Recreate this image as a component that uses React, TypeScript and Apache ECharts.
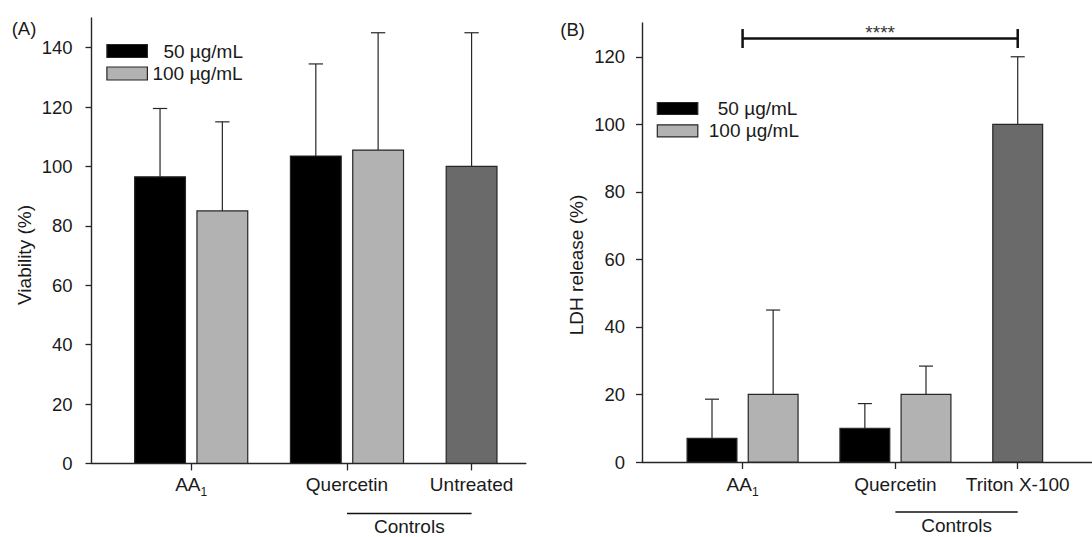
import React, { useEffect, useRef } from 'react';
import * as echarts from 'echarts';

// ---------- data ----------
const viabilityGroups = ['AA1', 'Quercetin', 'Untreated'];
const ldhGroups = ['AA1', 'Quercetin', 'Triton X-100'];
const concentrationNames = ['50 µg/mL', '100 µg/mL'];

const viability50 = [96.5, 103.5];
const viability50Sd = [23, 31];
const viability100 = [85, 105.5];
const viability100Sd = [30, 39.5];
const viabilityControl = [100];
const viabilityControlSd = [45];

const ldh50 = [7, 10];
const ldh50Sd = [11.6, 7.3];
const ldh100 = [20, 20];
const ldh100Sd = [25, 8.4];
const ldhControl = [100];
const ldhControlSd = [20];

const viabilityTicks = [0, 20, 40, 60, 80, 100, 120, 140];
const ldhTicks = [0, 20, 40, 60, 80, 100, 120];

const significanceText = '****';
const significanceLevel = 125.4;
const controlsText = 'Controls';

// ---------- layout (axis units, not data) ----------
const GROUP_CENTERS = [1, 6, 10];
const BAR_OFFSET = 1;
const BAR_W = 1.63;
const CAP_W = 0.46;

const FONT = '"Liberation Sans", Arial, Helvetica, sans-serif';
const TEXT = '#1a1a1a';
const EDGE = '#262626';
const C50 = '#000000';
const C100 = '#b2b2b2';
const CCTRL = '#6a6a6a';

function barData(values: number[], sds: number[], offset: number, startGroup = 0) {
  return values.map((v, i) => [GROUP_CENTERS[startGroup + i] + offset, v, sds[i]]);
}

function renderBar(params: any, api: any) {
  const x = api.value(0);
  const v = api.value(1);
  const sd = api.value(2);
  const base = api.coord([x, 0]);
  const top = api.coord([x, v]);
  const err = api.coord([x, v + sd]);
  const w = api.size([BAR_W, 0])[0];
  const cw = api.size([CAP_W, 0])[0];
  const lineStyle = { stroke: EDGE, lineWidth: 1.2 };
  return {
    type: 'group',
    children: [
      { type: 'line', shape: { x1: top[0], y1: top[1], x2: top[0], y2: err[1] }, style: lineStyle },
      { type: 'line', shape: { x1: top[0] - cw / 2, y1: err[1], x2: top[0] + cw / 2, y2: err[1] }, style: lineStyle },
      {
        type: 'rect',
        shape: { x: top[0] - w / 2, y: top[1], width: w, height: base[1] - top[1] },
        style: { fill: api.visual('color'), stroke: EDGE, lineWidth: 1.2 },
      },
    ],
  };
}

function renderControls(params: any, api: any) {
  const a = api.coord([api.value(0), 0]);
  const b = api.coord([api.value(1), 0]);
  const y = a[1] + 50;
  return {
    type: 'group',
    children: [
      { type: 'line', shape: { x1: a[0], y1: y, x2: b[0], y2: y }, style: { stroke: '#111', lineWidth: 1.5 } },
      {
        type: 'text',
        x: (a[0] + b[0]) / 2,
        y: y + 13,
        style: { text: controlsText, fontSize: 19, fontFamily: FONT, fill: TEXT, align: 'center', verticalAlign: 'middle' },
      },
    ],
  };
}

function renderBracket(params: any, api: any) {
  const lvl = api.value(2);
  const a = api.coord([api.value(0), lvl]);
  const b = api.coord([api.value(1), lvl]);
  const st = { stroke: '#111', lineWidth: 2.5 };
  return {
    type: 'group',
    children: [
      { type: 'line', shape: { x1: a[0], y1: a[1], x2: b[0], y2: b[1] }, style: st },
      { type: 'line', shape: { x1: a[0], y1: a[1] - 9.5, x2: a[0], y2: a[1] + 9.5 }, style: st },
      { type: 'line', shape: { x1: b[0], y1: b[1] - 9.5, x2: b[0], y2: b[1] + 9.5 }, style: st },
      {
        type: 'text',
        x: (a[0] + b[0]) / 2,
        y: a[1] - 6.5,
        style: { text: significanceText, fontSize: 19, fontFamily: FONT, fill: '#333', align: 'center', verticalAlign: 'middle' },
      },
    ],
  };
}

function xLabelFormatter(groups: string[]) {
  return (value: number) => {
    const i = GROUP_CENTERS.indexOf(Math.round(value));
    const name = groups[i] ?? '';
    if (name === 'AA1') return '{m|AA}{sub|1}';
    return '{m|' + name + '}';
  };
}

const xRich = {
  m: { fontSize: 19, fontFamily: FONT, color: TEXT, lineHeight: 28, verticalAlign: 'middle' },
  sub: { fontSize: 12, fontFamily: FONT, color: TEXT, lineHeight: 12, verticalAlign: 'bottom' },
};

function makeXAxis(gridIndex: number, min: number, max: number, groups: string[], margin: number) {
  return {
    type: 'value',
    gridIndex,
    min,
    max,
    splitLine: { show: false },
    axisLine: { show: true, onZero: true, lineStyle: { color: EDGE, width: 1.4 } },
    axisTick: { show: true, length: 7, customValues: GROUP_CENTERS, lineStyle: { color: EDGE, width: 1.3 } },
    axisLabel: {
      show: true,
      customValues: GROUP_CENTERS,
      margin,
      lineHeight: 28,
      formatter: xLabelFormatter(groups),
      rich: xRich,
      color: TEXT,
      fontSize: 19,
      fontFamily: FONT,
    },
  };
}

function makeYAxis(gridIndex: number, max: number, ticks: number[], margin: number) {
  return {
    type: 'value',
    gridIndex,
    min: 0,
    max,
    splitLine: { show: false },
    axisLine: { show: true, onZero: false, lineStyle: { color: EDGE, width: 1.4 } },
    axisTick: { show: true, length: 6, customValues: ticks, lineStyle: { color: EDGE, width: 1.3 } },
    axisLabel: { show: true, customValues: ticks, margin, color: TEXT, fontSize: 18.5, fontFamily: FONT },
  };
}

function makeLegend(left: number, top: number, itemHeight: number, itemGap: number, pad50: number, pad100: number) {
  return {
    orient: 'vertical',
    left,
    top,
    padding: 0,
    itemWidth: 40.5,
    itemHeight,
    itemGap,
    selectedMode: false,
    icon: 'rect',
    textStyle: {
      fontSize: 19,
      fontFamily: FONT,
      color: TEXT,
      lineHeight: 19,
      rich: {
        p50: { fontSize: 19, fontFamily: FONT, color: TEXT, lineHeight: 19, padding: [0, 0, 0, pad50] },
        p100: { fontSize: 19, fontFamily: FONT, color: TEXT, lineHeight: 19, padding: [0, 0, 0, pad100] },
      },
    },
    formatter: (name: string) => (name === concentrationNames[0] ? '{p50|' + name + '}' : '{p100|' + name + '}'),
    data: [
      { name: concentrationNames[0], itemStyle: { color: C50, borderColor: EDGE, borderWidth: 1.2 } },
      { name: concentrationNames[1], itemStyle: { color: C100, borderColor: EDGE, borderWidth: 1.2 } },
    ],
  };
}

export default function App() {
  const ref = useRef<HTMLDivElement>(null);

  useEffect(() => {
    if (!ref.current) return;
    const chart = echarts.init(ref.current, undefined, { renderer: 'svg' });

    const option: any = {
      animation: false,
      backgroundColor: '#ffffff',
      textStyle: { fontFamily: FONT },
      grid: [
        { left: 91.5, top: 17.9, width: 434.3, height: 445.5, containLabel: false },
        { left: 642, top: 23, width: 450, height: 439, containLabel: false },
      ],
      xAxis: [
        makeXAxis(0, -2.2, 11.74, viabilityGroups, 7),
        makeXAxis(1, -2.29, 12.43, ldhGroups, 8),
      ],
      yAxis: [makeYAxis(0, 150, viabilityTicks, 19), makeYAxis(1, 130, ldhTicks, 17)],
      legend: [makeLegend(106.3, 41.5, 13, 3.5, 11, 0), makeLegend(656.7, 99, 12, 3.3, 15, 6)],
      graphic: [
        { type: 'text', x: 24, y: 28, style: { text: '(A)', fontSize: 18.5, fontFamily: FONT, fill: TEXT, align: 'center', verticalAlign: 'middle' } },
        { type: 'text', x: 572.6, y: 29, style: { text: '(B)', fontSize: 18.5, fontFamily: FONT, fill: TEXT, align: 'center', verticalAlign: 'middle' } },
        { type: 'text', x: 24, y: 255, rotation: Math.PI / 2, style: { text: 'Viability (%)', fontSize: 19, fontFamily: FONT, fill: TEXT, align: 'center', verticalAlign: 'middle' } },
        { type: 'text', x: 576.7, y: 265, rotation: Math.PI / 2, style: { text: 'LDH release (%)', fontSize: 19, fontFamily: FONT, fill: TEXT, align: 'center', verticalAlign: 'middle' } },
      ],
      series: [
        { type: 'custom', name: concentrationNames[0], xAxisIndex: 0, yAxisIndex: 0, renderItem: renderBar, itemStyle: { color: C50 }, encode: { x: 0, y: 1 }, data: barData(viability50, viability50Sd, -BAR_OFFSET) },
        { type: 'custom', name: concentrationNames[1], xAxisIndex: 0, yAxisIndex: 0, renderItem: renderBar, itemStyle: { color: C100 }, encode: { x: 0, y: 1 }, data: barData(viability100, viability100Sd, BAR_OFFSET) },
        { type: 'custom', name: viabilityGroups[2], xAxisIndex: 0, yAxisIndex: 0, renderItem: renderBar, itemStyle: { color: CCTRL }, encode: { x: 0, y: 1 }, data: barData(viabilityControl, viabilityControlSd, 0, 2) },
        { type: 'custom', name: 'controls-A', xAxisIndex: 0, yAxisIndex: 0, clip: false, silent: true, renderItem: renderControls, encode: { x: [0, 1] }, data: [[GROUP_CENTERS[1], GROUP_CENTERS[2]]] },

        { type: 'custom', name: concentrationNames[0], xAxisIndex: 1, yAxisIndex: 1, renderItem: renderBar, itemStyle: { color: C50 }, encode: { x: 0, y: 1 }, data: barData(ldh50, ldh50Sd, -BAR_OFFSET) },
        { type: 'custom', name: concentrationNames[1], xAxisIndex: 1, yAxisIndex: 1, renderItem: renderBar, itemStyle: { color: C100 }, encode: { x: 0, y: 1 }, data: barData(ldh100, ldh100Sd, BAR_OFFSET) },
        { type: 'custom', name: ldhGroups[2], xAxisIndex: 1, yAxisIndex: 1, renderItem: renderBar, itemStyle: { color: CCTRL }, encode: { x: 0, y: 1 }, data: barData(ldhControl, ldhControlSd, 0, 2) },
        { type: 'custom', name: 'controls-B', xAxisIndex: 1, yAxisIndex: 1, clip: false, silent: true, renderItem: renderControls, encode: { x: [0, 1] }, data: [[GROUP_CENTERS[1], GROUP_CENTERS[2]]] },
        { type: 'custom', name: 'significance-B', xAxisIndex: 1, yAxisIndex: 1, clip: false, silent: true, renderItem: renderBracket, encode: { x: [0, 1], y: 2 }, data: [[GROUP_CENTERS[0], GROUP_CENTERS[2], significanceLevel]] },
      ],
    };

    chart.setOption(option);
    return () => chart.dispose();
  }, []);

  return <div ref={ref} style={{ position: 'fixed', left: 0, top: 0, width: 1092, height: 537 }} />;
}
